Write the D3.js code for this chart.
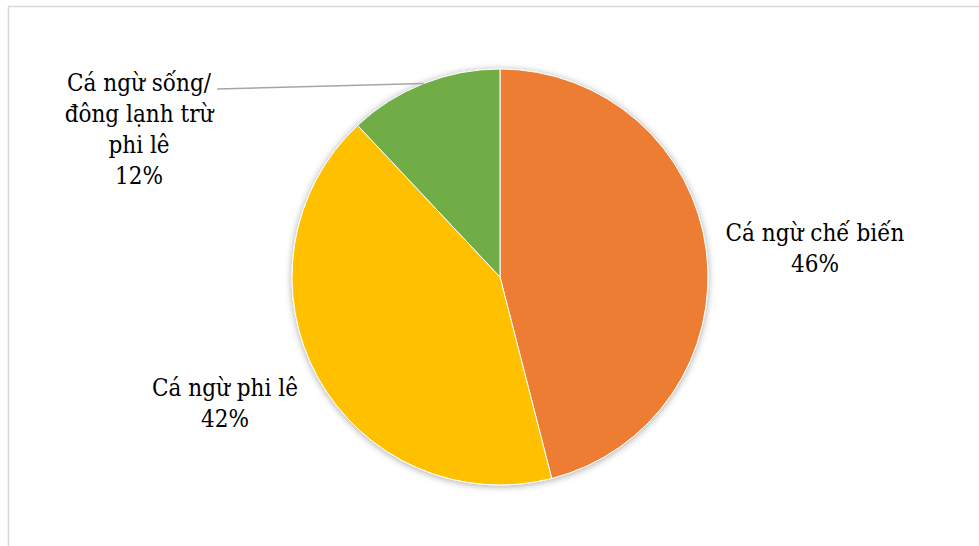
<!DOCTYPE html>
<html>
<head>
<meta charset="utf-8">
<script src="https://cdn.jsdelivr.net/npm/d3@7"></script>
<style>
  html, body { margin: 0; padding: 0; background: #fff; }
  svg { display: block; }
</style>
</head>
<body>
<svg id="chart" width="979" height="546"></svg>
<script>
// Tuna export structure by product group
const categories = ["Cá ngừ chế biến", "Cá ngừ phi lê", "Cá ngừ sống/đông lạnh trừ phi lê"];
const shares = [46, 42, 12];
const labelLines = [
  ["Cá ngừ chế biến", "46%"],
  ["Cá ngừ phi lê", "42%"],
  ["Cá ngừ sống/", "đông lạnh trừ", "phi lê", "12%"]
];
const colors = ["#ED7D31", "#FFC000", "#70AD47"];

// Layout
const W = 979, H = 546;
const cx = 500, cy = 277, R = 208;
const lineGap = 31;
const fontStack = "DejaVu Serif Condensed, DejaVu Serif, serif";
// label block centre x and first baseline y
const labelPos = [
  { x: 815, y: 241 },
  { x: 225, y: 396 },
  { x: 139, y: 91 }
];

const svg = d3.select("#chart");

// chart area frame
svg.append("rect")
  .attr("x", 8.5).attr("y", 6.5)
  .attr("width", W + 10).attr("height", H + 10)
  .attr("fill", "#fff")
  .attr("stroke", "#d9d9d9")
  .attr("stroke-width", 1.5);

const defs = svg.append("defs");
const f = defs.append("filter").attr("id", "shadow")
  .attr("x", "-10%").attr("y", "-10%").attr("width", "120%").attr("height", "120%");
f.append("feDropShadow")
  .attr("dx", 0).attr("dy", 1)
  .attr("stdDeviation", 3.5)
  .attr("flood-color", "#000")
  .attr("flood-opacity", 0.35);

const data = categories.map((c, i) => ({ name: c, value: shares[i], lines: labelLines[i], color: colors[i], pos: labelPos[i] }));

const pie = d3.pie().value(d => d.value).sort(null).startAngle(0).endAngle(2 * Math.PI);
const arcs = pie(data);
const arc = d3.arc().innerRadius(0).outerRadius(R);
const edge = d3.arc().innerRadius(R).outerRadius(R);

const g = svg.append("g").attr("transform", `translate(${cx},${cy})`);

g.append("g").attr("filter", "url(#shadow)")
  .selectAll("path")
  .data(arcs)
  .join("path")
  .attr("d", arc)
  .attr("fill", d => d.data.color)
  .attr("stroke", "#fff")
  .attr("stroke-width", 1);

// leader line for the small slice
const small = arcs[2];
const tip = edge.centroid(small);
svg.append("line")
  .attr("x1", 217).attr("y1", 89)
  .attr("x2", cx + tip[0]).attr("y2", cy + tip[1])
  .attr("stroke", "#a6a6a6")
  .attr("stroke-width", 1.5);

// data labels
arcs.forEach(a => {
  const t = svg.append("text")
    .style("font-family", fontStack)
    .style("font-stretch", "condensed")
    .style("font-size", "24px")
    .attr("fill", "#000")
    .attr("text-anchor", "middle")
    .attr("x", a.data.pos.x)
    .attr("y", a.data.pos.y);
  a.data.lines.forEach((ln, i) => {
    t.append("tspan")
      .attr("x", a.data.pos.x)
      .attr("y", a.data.pos.y + i * lineGap)
      .text(ln);
  });
});
</script>
</body>
</html>
